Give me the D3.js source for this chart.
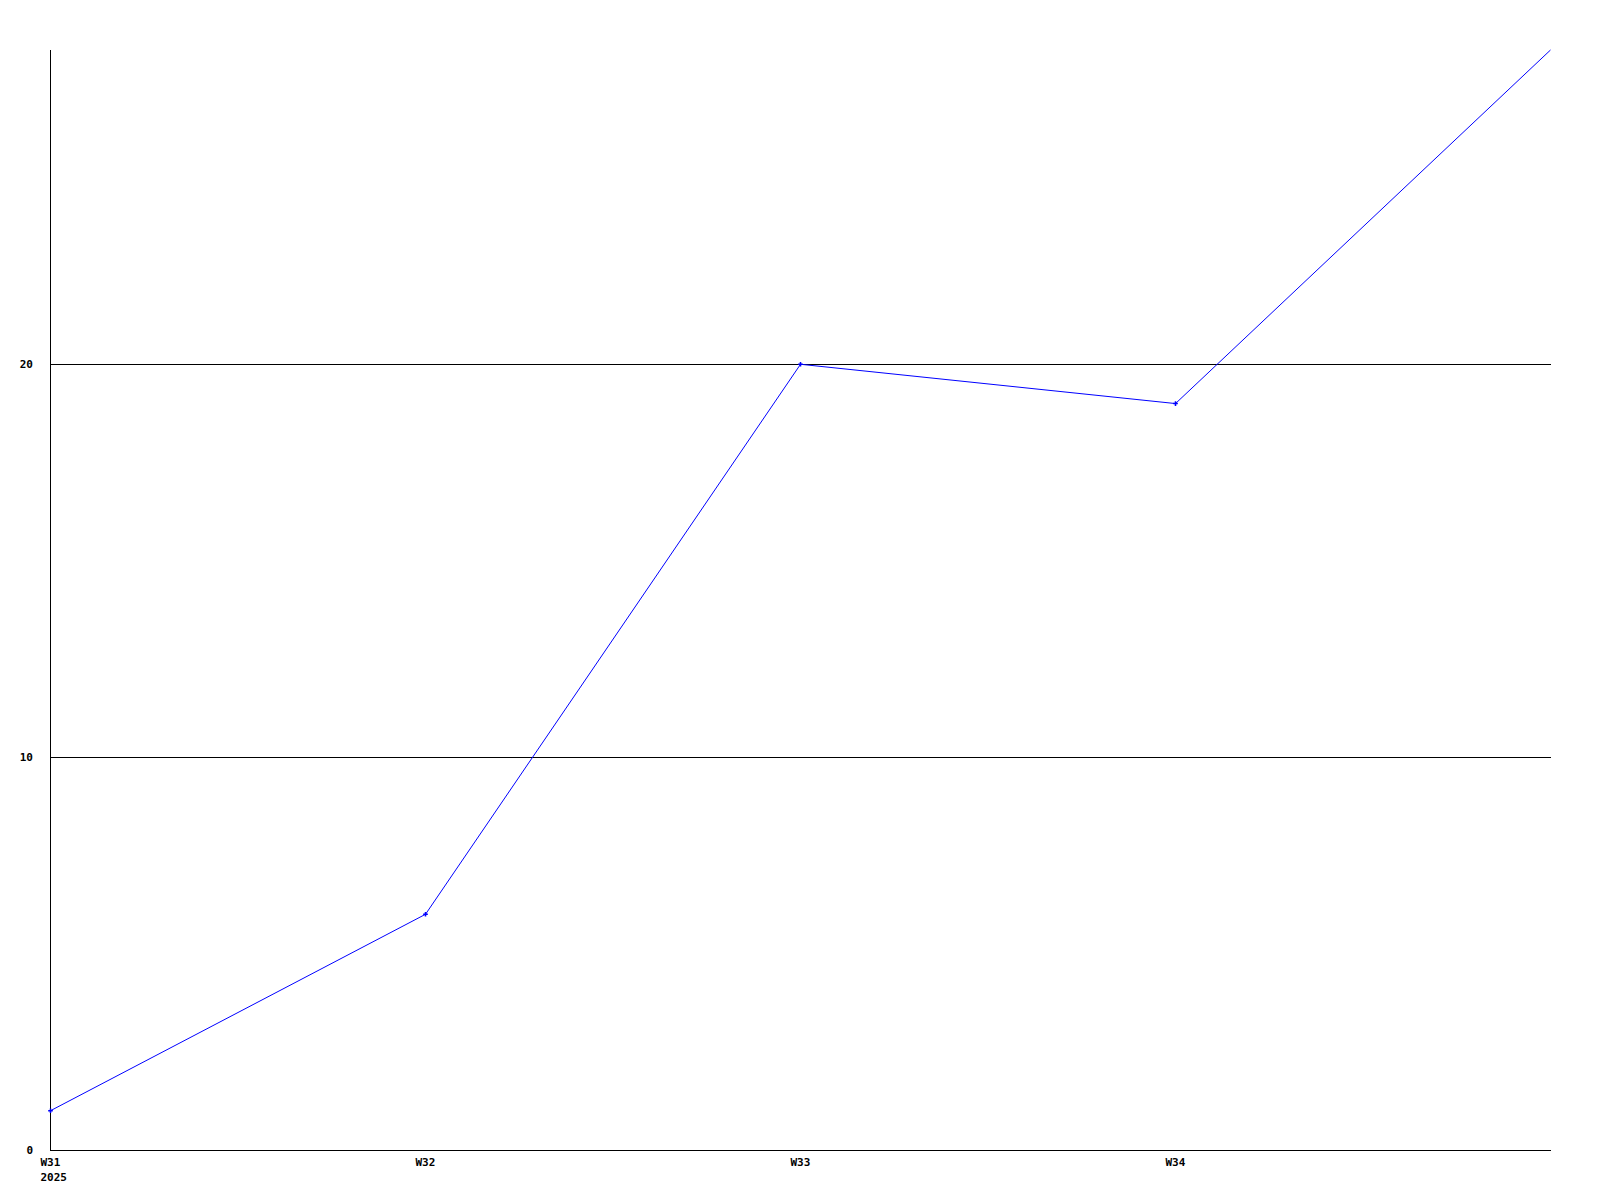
<!DOCTYPE html>
<html><head><meta charset="utf-8">
<script src="https://cdn.jsdelivr.net/npm/d3@7"></script>
<style>body{margin:0;background:#fff}</style>
</head><body>
<svg id="c" width="1600" height="1200"></svg>
<script>
const categories = ["W31","W32","W33","W34","W35"];
const values = [1, 6, 20, 19, 28];
const yTicks = [0, 10, 20];
const yearLabel = "2025";

const svg = d3.select("#c");
const m = {l:50, r:49, t:50, b:50};
const W = 1600, H = 1200;
const x = d3.scalePoint().domain(categories).range([m.l + 0.5, W - m.r - 0.5]);
const y = d3.scaleLinear().domain([0, 28]).range([H - m.b, m.t]);
const font = "'DejaVu Sans Mono', monospace";

// gridlines
svg.append("g").selectAll("line").data(yTicks.filter(d => d > 0)).join("line")
  .attr("x1", m.l).attr("x2", W - m.r)
  .attr("y1", d => y(d) + 0.5).attr("y2", d => y(d) + 0.5)
  .attr("stroke", "#000").attr("stroke-width", 1).attr("shape-rendering","crispEdges");

// axes lines
svg.append("line").attr("x1", m.l + 0.5).attr("x2", m.l + 0.5).attr("y1", m.t).attr("y2", H - m.b)
  .attr("stroke", "#000").attr("shape-rendering","crispEdges");
svg.append("line").attr("x1", m.l).attr("x2", W - m.r).attr("y1", H - m.b + 0.5).attr("y2", H - m.b + 0.5)
  .attr("stroke", "#000").attr("shape-rendering","crispEdges");

// y labels
svg.append("g").selectAll("text").data(yTicks).join("text")
  .attr("x", 33).attr("y", d => y(d) + 4)
  .attr("text-anchor", "end").attr("font-family", font).attr("font-weight", "bold")
  .attr("font-size", 11).text(d => d);

// x labels
svg.append("g").selectAll("text").data(categories.slice(0, 4)).join("text")
  .attr("x", d => x(d) - 10).attr("y", H - m.b + 16)
  .attr("font-family", font).attr("font-weight", "bold").attr("font-size", 11).text(d => d);
svg.append("text").attr("x", x(categories[0]) - 10).attr("y", H - m.b + 31)
  .attr("font-family", font).attr("font-weight", "bold").attr("font-size", 11).text(yearLabel);

// line
const data = categories.map((c, i) => ({c, v: values[i]}));
svg.append("path").datum(data)
  .attr("d", d3.line().x(d => x(d.c)).y(d => y(d.v)))
  .attr("fill", "none").attr("stroke", "#0000ff").attr("stroke-width", 1);

// markers
svg.append("g").selectAll("path").data(data.slice(0, 4)).join("path")
  .attr("transform", d => `translate(${x(d.c)},${y(d.v)})`)
  .attr("d", d3.symbol(d3.symbolCross, 12))
  .attr("fill", "#0000ff");
</script>
</body></html>
